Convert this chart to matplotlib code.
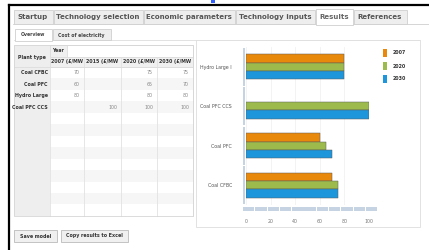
import numpy as np
import matplotlib
matplotlib.use("Agg")
import matplotlib.pyplot as plt
from matplotlib.patches import Rectangle

# ---- data ----
tab_names = ["Startup", "Technology selection", "Economic parameters",
             "Technology inputs", "Results", "References"]
subtab_names = ["Overview", "Cost of electricity"]

table_plants = ["Coal CFBC", "Coal PFC", "Hydro Large", "Coal PFC CCS"]
table_columns = ["2007 (£/MW", "2015 (£/MW", "2020 (£/MW", "2030 (£/MW"]
table_values = [
    [70, None, 75, 75],
    [60, None, 65, 70],
    [80, None, 80, 80],
    [None, 100, 100, 100],
]

chart_categories = ["Hydro Large I", "Coal PFC CCS", "Coal PFC", "Coal CFBC"]
series_names = ["2007", "2020", "2030"]
series_2007 = [80, np.nan, 60, 70]
series_2020 = [80, 100, 65, 75]
series_2030 = [80, 100, 70, 75]
series_colors = ["#E8890C", "#9DBB4C", "#1E96DC"]
x_ticks = [0, 20, 40, 60, 80, 100]

W, H = 429, 250
fig = plt.figure(figsize=(W / 100, H / 100), dpi=100)
fig.patch.set_facecolor("white")

# overlay in pixel coordinates for the surrounding UI
ui = fig.add_axes([0, 0, 1, 1])
ui.set_xlim(0, W)
ui.set_ylim(H, 0)
ui.axis("off")


def box(x0, y0, x1, y1, fc="white", ec="#cfcfcf", lw=0.6, z=1):
    ui.add_patch(Rectangle((x0, y0), x1 - x0, y1 - y0, facecolor=fc,
                           edgecolor=ec, linewidth=lw, zorder=z))


# black frame
ui.plot([9, W], [5, 5], color="black", lw=1.6, zorder=5)
ui.plot([9, 9], [5, H], color="black", lw=1.6, zorder=5)
box(211, 0, 215, 3, fc="#3060ff", ec="none", z=5)

# main tabs
tab_edges = [13, 53, 143, 235, 315, 353, 407]
ui.plot([13, W], [24, 24], color="#cfcfcf", lw=0.6, zorder=1)
for i, name in enumerate(tab_names):
    active = name == "Results"
    box(tab_edges[i] + 0.5, 9 if active else 10, tab_edges[i + 1] - 0.5, 24.5 if active else 24,
        fc="white" if active else "#eeeeee", z=2 if active else 1)
    ui.text((tab_edges[i] + tab_edges[i + 1]) / 2, 17, name, ha="center", va="center",
            fontsize=5.0, color="#555555" if not active else "#666666",
            fontweight="bold", zorder=3)

# sub tabs
sub_edges = [14, 52, 111]
ui.plot([14, 420], [40, 40], color="#dddddd", lw=0.6, zorder=1)
for i, name in enumerate(subtab_names):
    active = i == 0
    box(sub_edges[i] + 0.5, 29, sub_edges[i + 1] - 0.5, 40.5 if active else 40,
        fc="white" if active else "#eeeeee", z=2 if active else 1)
    ui.text((sub_edges[i] + sub_edges[i + 1]) / 2, 35, name, ha="center", va="center",
            fontsize=3.3, color="#444444", fontweight="bold", zorder=3)

# table
col_edges = [14, 50, 84, 121, 157, 193]
row_top = 67
row_h = 11.45
n_rows = 13
for r in range(n_rows):
    y0 = row_top + r * row_h
    box(50, y0, 193, y0 + row_h, fc="#f6f6f6" if r % 2 else "white", ec="none", z=1)
box(14, 45, 50, 216, fc="#eeeeee", ec="none", z=1)
box(50, 45, 193, 57, fc="white", ec="#dddddd", z=1)
box(50, 45, 67, 57, fc="#f0f0f0", ec="#dddddd", z=1)
box(50, 57, 193, 67, fc="#f0f0f0", ec="#dddddd", z=1)
for x in col_edges[1:]:
    ui.plot([x, x], [57, 216], color="#e2e2e2", lw=0.6, zorder=2)
box(14, 45, 193, 216, fc="none", ec="#d6d6d6", z=3)
ui.plot([14, 193], [67, 67], color="#dddddd", lw=0.6, zorder=2)
ui.text(32, 57, "Plant type", ha="center", va="center", fontsize=3.4,
        color="#333333", fontweight="bold", zorder=4)
ui.text(52, 51, "Year", ha="left", va="center", fontsize=3.4,
        color="#333333", fontweight="bold", zorder=4)
for c, label in enumerate(table_columns):
    ui.text((col_edges[c + 1] + col_edges[c + 2]) / 2, 62, label, ha="center",
            va="center", fontsize=3.4, color="#333333", fontweight="bold", zorder=4)
for r, plant in enumerate(table_plants):
    yc = row_top + r * row_h + row_h / 2
    ui.text(48, yc, plant, ha="right", va="center", fontsize=3.4,
            color="#333333", fontweight="bold", zorder=4)
    for c, v in enumerate(table_values[r]):
        if v is not None:
            ui.text(col_edges[c + 2] - 4, yc, str(v), ha="right", va="center",
                    fontsize=3.4, color="#888888", zorder=4)

# buttons
for x0, x1, label in [(14, 57, "Save model"), (61, 128, "Copy results to Excel")]:
    box(x0, 230, x1, 242, fc="#f0f0f0", ec="#bbbbbb", z=2)
    ui.text((x0 + x1) / 2, 236, label, ha="center", va="center", fontsize=3.4,
            color="#333333", fontweight="bold", zorder=3)

# chart panel
box(196, 40, 420, 227, fc="white", ec="#dddddd", z=1)

# legend
for i, (name, col) in enumerate(zip(series_names, series_colors)):
    yc = 53 + i * 13
    box(383, yc - 4, 387, yc + 4, fc=col, ec="none", z=3)
    ui.text(393, yc, name, ha="left", va="center", fontsize=3.4,
            color="#333333", fontweight="bold", zorder=3)

# ---- bar chart ----
ax_l, ax_r, ax_t, ax_b = 246, 369, 47, 205
ax = fig.add_axes([ax_l / W, 1 - ax_b / H, (ax_r - ax_l) / W, (ax_b - ax_t) / H])
ax.set_facecolor("none")
pos = np.arange(len(chart_categories))
bh = 0.215
for k, (vals, col) in enumerate(zip([series_2007, series_2020, series_2030], series_colors)):
    ax.barh(pos + (k - 1) * bh, vals, height=bh, color=col,
            edgecolor="#5a5a5a", linewidth=0.35, zorder=3)
ax.set_xlim(0, 100)
ax.set_ylim(len(chart_categories) - 0.5, -0.5)
ax.set_yticks(pos)
ax.set_yticklabels(chart_categories, fontsize=3.4, color="#555555")
ax.set_xticks(x_ticks)
ax.set_xticklabels([str(t) for t in x_ticks], fontsize=3.4, color="#777777")
ax.tick_params(length=0, pad=10)
ax.tick_params(axis="y", pad=10)
for s in ax.spines.values():
    s.set_visible(False)
ax.grid(axis="x", color="#eeeeee", linewidth=0.5, zorder=0)

# y axis band, broken between categories
for p in pos:
    ax.add_patch(Rectangle((-2.2, p - 0.48), 1.6, 0.96, facecolor="#c5d3e3",
                           edgecolor="none", clip_on=False, transform=ax.transData))
# x axis band, segmented every 10 units
for x0 in range(-3, 100, 10):
    ax.add_patch(Rectangle((x0 + 0.5, 3.55), 9.3, 0.1, facecolor="#c5d3e3",
                           edgecolor="none", clip_on=False, transform=ax.transData))

fig.savefig("out.png", dpi=100, facecolor="white")
